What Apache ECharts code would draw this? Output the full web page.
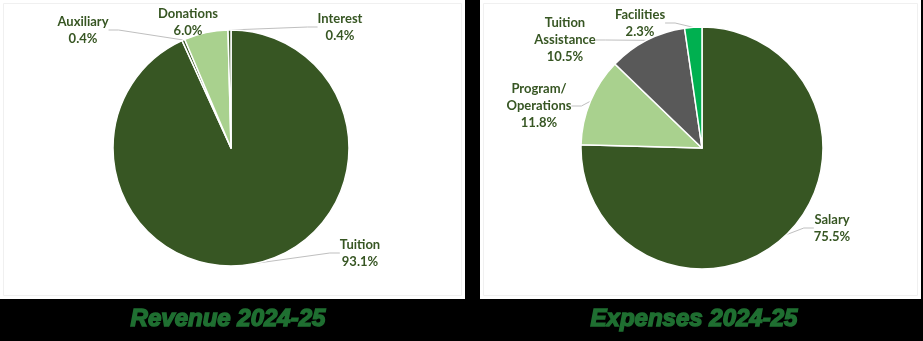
<!DOCTYPE html>
<html><head><meta charset="utf-8">
<script src="https://cdn.jsdelivr.net/npm/echarts@6/dist/echarts.min.js"></script>
<style>html,body{margin:0;padding:0;background:#000;}#c{width:923px;height:341px;}</style>
</head><body><div id="c"></div>
<script>
// Data
const revenueCategories = ['Tuition', 'Auxiliary', 'Donations', 'Interest'];
const revenueValues = [93.1, 0.4, 6.0, 0.4];
const expenseCategories = ['Salary', 'Program/\nOperations', 'Tuition\nAssistance', 'Facilities'];
const expenseValues = [75.5, 11.8, 10.5, 2.3];
const titles = ['Revenue 2024-25', 'Expenses 2024-25'];

// Styles / layout (separate from data)
const revenueColors = ['#375623', '#375623', '#a9d18e', '#375623'];
const expenseColors = ['#375623', '#a9d18e', '#595959', '#00b050'];
const revenueLabelPos = [[360, 253], [83, 30], [188, 22], [340, 27]];
const expenseLabelPos = [[832, 228], [539, 106], [565, 40], [640, 23]];
const revenueNoLine = [false, false, true, false];
const expenseNoLine = [false, false, false, false];

function buildData(cats, vals, colors, noLine) {
  return cats.map((c, i) => ({
    name: c, value: vals[i],
    itemStyle: { color: colors[i] },
    labelLine: { show: !noLine[i] }
  }));
}

const labelStyle = {
  show: true, position: 'outside',
  fontFamily: 'Lato', fontWeight: 'bold', fontSize: 13, lineHeight: 17,
  color: '#375623', align: 'center',
  formatter: p => p.name + '\n' + p.value.toFixed(1) + '%'
};

function makePie(center, radius, data, pos) {
  return {
    type: 'pie', center: center, radius: radius, startAngle: 90, clockwise: true,
    animation: false, silent: true,
    itemStyle: { borderColor: '#ffffff', borderWidth: 1.5 },
    label: labelStyle,
    labelLine: { show: true, length: 10, length2: 10, lineStyle: { color: '#bfbfbf', width: 1 } },
    labelLayout: function (params) {
      const p = pos[params.dataIndex];
      return { x: p[0], y: p[1], align: 'center', verticalAlign: 'middle' };
    },
    data: data
  };
}

const titleStyle = { fontFamily: 'Liberation Sans', fontStyle: 'italic', fontWeight: 'bold', fontSize: 24, color: '#1f6f31', textBorderColor: '#1f6f31', textBorderWidth: 1.5 };

const chart = echarts.init(document.getElementById('c'), null, { renderer: 'canvas' });
chart.setOption({
  backgroundColor: '#000000',
  animation: false,
  graphic: [
    { type: 'rect', z: -10, shape: { x: 0, y: 0, width: 465, height: 299 }, style: { fill: '#ffffff' } },
    { type: 'rect', z: -9, shape: { x: 3.5, y: 3.5, width: 458, height: 292 }, style: { fill: 'none', stroke: '#f0f0f0', lineWidth: 1 } },
    { type: 'rect', z: -10, shape: { x: 480, y: 0, width: 441, height: 299 }, style: { fill: '#ffffff' } },
    { type: 'rect', z: -9, shape: { x: 483.5, y: 3.5, width: 434, height: 292 }, style: { fill: 'none', stroke: '#f0f0f0', lineWidth: 1 } }
  ],
  title: [
    { text: titles[0], left: 223, top: 314, textAlign: 'center', textVerticalAlign: 'middle', textStyle: titleStyle },
    { text: titles[1], left: 689, top: 314, textAlign: 'center', textVerticalAlign: 'middle', textStyle: titleStyle }
  ],
  series: [
    makePie([231, 148], 118, buildData(revenueCategories, revenueValues, revenueColors, revenueNoLine), revenueLabelPos),
    makePie([702, 148], 121, buildData(expenseCategories, expenseValues, expenseColors, expenseNoLine), expenseLabelPos)
  ]
});
</script></body></html>
